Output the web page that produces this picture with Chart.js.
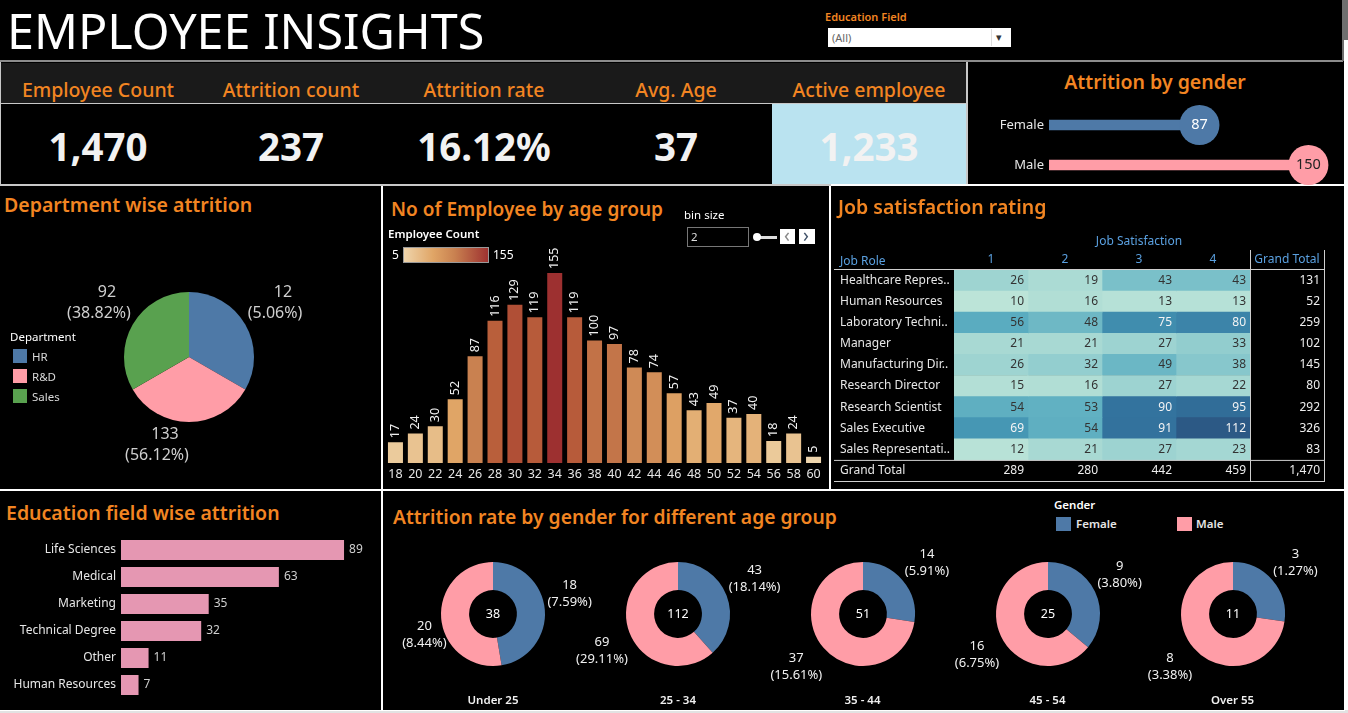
<!DOCTYPE html>
<html>
<head>
<meta charset="utf-8">
<title>Employee Insights</title>
<script src="https://cdn.jsdelivr.net/npm/chart.js@4"></script>
<style>
  html, body { margin: 0; padding: 0; background: #fff; overflow: hidden; }
  #board { position: relative; width: 1348px; height: 713px; background: #000; overflow: hidden; font-family: "Noto Sans", sans-serif; color: #fff; }
  #board canvas { position: absolute; }
  .line, .box { position: absolute; }
  .t { position: absolute; white-space: nowrap; line-height: 1; }
  .title { color: #f28522; font-weight: 600; font-size: 19.5px; }
  .kpi-h { color: #f28522; font-weight: 500; font-size: 19.5px; transform: translateX(-50%); }
  .kpi-v { color: #f2f2f2; font-weight: 700; font-size: 38.5px; transform: translateX(-50%); }
</style>
</head>
<body>
<div id="board"></div>
<script>
// Values
const kpiNames = ['Employee Count', 'Attrition count', 'Attrition rate', 'Avg. Age', 'Active employee'];
const kpiValues = ['1,470', '237', '16.12%', '37', '1,233'];

const genderNames = ['Female', 'Male'];
const genderCounts = [87, 150];

const deptNames = ['HR', 'R&D', 'Sales'];
const deptCounts = [12, 133, 92];
const deptShares = ['5.06%', '56.12%', '38.82%'];
const deptSliceSizes = [1, 1, 1]; // the slices are drawn as equal thirds in the original

const ageBins = ['18','20','22','24','26','28','30','32','34','36','38','40','42','44','46','48','50','52','54','56','58','60'];
const ageCounts = [17,24,30,52,87,116,129,119,155,119,100,97,78,74,57,43,49,37,40,18,24,5];

const jobRoles = ['Healthcare Repres..','Human Resources','Laboratory Techni..','Manager','Manufacturing Dir..','Research Director','Research Scientist','Sales Executive','Sales Representati..','Grand Total'];
const ratingNames = ['1','2','3','4','Grand Total'];
const rating1 = [26,10,56,21,26,15,54,69,12];
const rating2 = [19,16,48,21,32,16,53,54,21];
const rating3 = [43,13,75,27,49,27,90,91,27];
const rating4 = [43,13,80,33,38,22,95,112,23];
const roleTotals = ['131','52','259','102','145','80','292','326','83'];
const ratingTotals = ['289','280','442','459','1,470'];

const eduNames = ['Life Sciences','Medical','Marketing','Technical Degree','Other','Human Resources'];
const eduCounts = [89,63,35,32,11,7];

const ageGroups = ['Under 25','25 - 34','35 - 44','45 - 54','Over 55'];
const femaleCounts = [18,43,14,9,3];
const maleCounts = [20,69,37,16,8];
const femaleShares = ['7.59%','18.14%','5.91%','3.80%','1.27%'];
const maleShares = ['8.44%','29.11%','15.61%','6.75%','3.38%'];
const groupTotals = [38,112,51,25,11];

const FONT = '"Noto Sans", sans-serif';
const BLUE = '#4e79a7', PINK = '#ff9da7', GREEN = '#59a14f';
const board = document.getElementById('board');
Chart.defaults.animation = false;
Chart.defaults.responsive = false;
Chart.defaults.font.family = FONT;
Chart.defaults.layout.autoPadding = false;
Chart.defaults.plugins.legend.display = false;
Chart.defaults.plugins.tooltip.enabled = false;

function addBox(x, y, w, h, color) {
  const d = document.createElement('div');
  d.className = 'box';
  d.style.cssText = `left:${x}px;top:${y}px;width:${w}px;height:${h}px;background:${color}`;
  board.appendChild(d);
  return d;
}
function addText(text, x, y, css, cls) {
  const d = document.createElement('div');
  d.className = 't ' + (cls || '');
  d.textContent = text;
  d.style.cssText = `left:${x}px;top:${y}px;` + (css || '');
  board.appendChild(d);
  return d;
}
function addCanvas(x, y, w, h) {
  const c = document.createElement('canvas');
  c.width = w; c.height = h;
  c.style.left = x + 'px'; c.style.top = y + 'px';
  board.appendChild(c);
  return c.getContext('2d');
}
function drawLabel(ctx, text, x, y, font, color, align) {
  ctx.font = font; ctx.fillStyle = color;
  ctx.textAlign = align || 'center'; ctx.textBaseline = 'middle';
  ctx.fillText(text, x, y);
}
// pin an axis to a fixed thickness so the plot area lands where the dashboard has it
function fixAxis(prop, size) {
  return s => {
    s[prop] = size;
    s.paddingLeft = s.paddingRight = s.paddingTop = s.paddingBottom = 0;
  };
}
function hexMix(stops, v) {
  let i = 0;
  while (i < stops.length - 2 && v > stops[i + 1][0]) i++;
  const [v0, a] = stops[i], [v1, b] = stops[i + 1];
  const t = Math.max(0, Math.min(1, (v - v0) / (v1 - v0)));
  const ch = s => [1, 3, 5].map(k => parseInt(s.substr(k, 2), 16));
  const ca = ch(a), cb = ch(b);
  return `rgb(${ca.map((c, k) => Math.round(c + (cb[k] - c) * t)).join(',')})`;
}

// ---------- frame lines ----------
addBox(0, 60, 1343, 2, '#8c8c8c');
addBox(1342, 0, 2, 61, '#6e6e6e');
addBox(1342, 0, 6, 40, '#6e6e6e');
addBox(1344, 40, 4, 673, '#fff');
addBox(0, 184, 831, 2, '#c8c8c8');
addBox(831, 184, 513, 2, '#fff');
addBox(966, 62, 2, 122, '#c8c8c8');
addBox(0, 62, 1, 122, '#c8c8c8');
addBox(381, 186, 2, 524, '#fff');
addBox(829, 186, 2, 304, '#fff');
addBox(0, 489, 1344, 2, '#fff');
addBox(0, 710, 1348, 3, '#e2e2e2');
addBox(0, 710, 1345, 1, '#fff');

// ---------- header ----------
addText('EMPLOYEE INSIGHTS', 7, 6, 'font-size:48.5px;font-weight:400;');
addText('Education Field', 825, 11, 'color:#f28522;font-size:11px;font-weight:600;');
addBox(828, 28, 183, 19, '#fff');
addBox(991, 29, 1, 17, '#ddd');
addText('(All)', 832, 32, 'color:#666;font-size:11px;');
addText('\u25BE', 996, 31, 'color:#333;font-size:11px;');

// ---------- KPI strip ----------
addBox(1, 63, 965, 40, '#1a1a1a');
addBox(1, 103, 965, 1, '#c8c8c8');
addBox(772, 104, 194, 80, '#bae3f0');
const kpiCenters = [98, 291, 484, 676, 869];
kpiNames.forEach((n, i) => addText(n, kpiCenters[i], 80, '', 'kpi-h'));
kpiValues.forEach((v, i) => addText(v, kpiCenters[i], 127, '', 'kpi-v'));

// ---------- attrition by gender ----------
addText('Attrition by gender', 1155, 72, 'transform:translateX(-50%);', 'title');
new Chart(addCanvas(968, 105, 375, 80), {
  type: 'bar',
  data: {
    labels: genderNames,
    datasets: [
      { type: 'line', data: genderCounts, showLine: false, pointRadius: 20, pointBackgroundColor: [BLUE, PINK], pointBorderWidth: 0, clip: false, order: 1 },
      { data: genderCounts, backgroundColor: [BLUE, PINK], barThickness: 10, order: 2 }
    ]
  },
  options: {
    indexAxis: 'y',
    scales: {
      x: { display: false, min: 0, max: 170 },
      y: {
        afterFit: fixAxis('width', 81),
        grid: { display: false, drawTicks: false }, border: { display: false },
        ticks: { color: '#e6e6e6', padding: 5, font: { size: 13 } }
      }
    }
  },
  plugins: [{
    id: 'bubbleText',
    afterDraw(chart) {
      const meta = chart.getDatasetMeta(0);
      meta.data.forEach((pt, i) => drawLabel(chart.ctx, genderCounts[i], pt.x, pt.y, `14.5px ${FONT}`, i === 0 ? '#fff' : '#222'));
    }
  }]
});

// ---------- department pie ----------
addText('Department wise attrition', 4, 195, '', 'title');
const deptLabelSpots = [[86, -54], [-32, 88], [-90, -54]];
new Chart(addCanvas(1, 186, 380, 303), {
  type: 'pie',
  data: { labels: deptNames, datasets: [{ data: deptSliceSizes, backgroundColor: [BLUE, PINK, GREEN], borderWidth: 0 }] },
  options: { layout: { padding: { left: 123, right: 127, top: 106, bottom: 67 } } },
  plugins: [{
    id: 'deptLabels',
    afterDraw(chart) {
      const arc = chart.getDatasetMeta(0).data[0];
      deptCounts.forEach((c, i) => {
        const x = arc.x + deptLabelSpots[i][0], y = arc.y + deptLabelSpots[i][1];
        drawLabel(chart.ctx, c, x + 8, y - 10.5, `16px ${FONT}`, '#cfcfcf');
        drawLabel(chart.ctx, `(${deptShares[i]})`, x, y + 10.5, `16px ${FONT}`, '#cfcfcf');
      });
    }
  }]
});
addText('Department', 10, 331, 'font-size:11.5px;color:#fff;');
deptNames.forEach((n, i) => {
  addBox(13, 349 + i * 20, 14, 14, [BLUE, PINK, GREEN][i]);
  addText(n, 32, 350.5 + i * 20, 'font-size:11.5px;color:#d8d8d8;');
});

// ---------- employees by age ----------
addText('No of Employee by age group', 391, 200, 'font-size:19px;', 'title');
const ageStops = [[5, '#efd6ae'], [17, '#ebcb9c'], [52, '#e0a566'], [87, '#c98150'], [116, '#b95f3b'], [129, '#b04f36'], [155, '#9d3030']];
new Chart(addCanvas(383, 186, 446, 304), {
  type: 'bar',
  data: { labels: ageBins, datasets: [{ data: ageCounts, backgroundColor: ageCounts.map(v => hexMix(ageStops, v)), barPercentage: 0.754, categoryPercentage: 1 }] },
  options: {
    layout: { padding: { left: 2.5, right: 5.5, top: 87 } },
    scales: {
      y: { display: false, min: 0, max: 155 },
      x: {
        afterFit: fixAxis('height', 27),
        grid: { display: false, drawTicks: false }, border: { display: false },
        ticks: { color: '#e6e6e6', maxRotation: 0, autoSkip: false, padding: 4, font: { size: 12.5 } }
      }
    }
  },
  plugins: [{
    id: 'ageValues',
    afterDraw(chart) {
      const c = chart.ctx;
      chart.getDatasetMeta(0).data.forEach((bar, i) => {
        c.save();
        c.translate(bar.x, bar.y - 4);
        c.rotate(-Math.PI / 2);
        drawLabel(c, ageCounts[i], 0, 0, `12.5px ${FONT}`, '#f0f0f0', 'left');
        c.restore();
      });
    }
  }]
});
addText('Employee Count', 388, 228, 'font-size:11.5px;font-weight:600;');
addText('5', 392, 249, 'font-size:12px;');
addBox(403, 247, 86, 16, 'linear-gradient(90deg,#efd6ae,#e0a566 35%,#c98150 60%,#9d3030)').style.boxShadow = 'inset 0 0 0 1px #999';
addText('155', 493, 249, 'font-size:12px;');
addText('bin size', 684, 209, 'font-size:11.5px;');
const binBox = addBox(687, 227, 60, 18, '#000');
binBox.style.border = '1px solid #777';
addText('2', 691, 231, 'font-size:11.5px;color:#ddd;');
addBox(757, 236, 20, 3, '#ddd');
addBox(753, 233, 8, 8, '#fff').style.borderRadius = '50%';
addBox(780, 229, 15, 15, '#fff');
addBox(799, 229, 16, 15, '#fff');
addText('\u2039', 784, 226, 'font-size:19px;color:#8a8a8a;');
addText('\u203A', 803, 226, 'font-size:19px;color:#43546b;');

// ---------- job satisfaction table ----------
addText('Job satisfaction rating', 838, 197, '', 'title');
addText('Job Satisfaction', 1139, 235, 'transform:translateX(-50%);font-size:12px;color:#5aa0e0;');
addText('Job Role', 840, 255, 'font-size:12px;color:#5aa0e0;');
const heatStops = [[10, '#bce4d8'], [36, '#8ccacd'], [61, '#4da5bd'], [90, '#33739e'], [112, '#2c5985']];
const ratingColumns = [rating1, rating2, rating3, rating4];
new Chart(addCanvas(830, 250, 500, 240), {
  type: 'bar',
  data: {
    labels: jobRoles,
    datasets: ratingColumns.map((col, j) => ({
      data: col.map(() => [j, j + 1]),
      backgroundColor: col.map(v => hexMix(heatStops, v)),
      barPercentage: 1, categoryPercentage: 1, grouped: false
    }))
  },
  options: {
    indexAxis: 'y',
    layout: { padding: { left: 10, right: 6, bottom: 9 } },
    datasets: { bar: { grouped: false } },
    scales: {
      x: { display: false, min: 0, max: 5 },
      xHead: {
        type: 'category', position: 'top', labels: ratingNames, offset: true,
        afterFit: fixAxis('height', 20),
        grid: { display: false, drawTicks: false, offset: true }, border: { display: false },
        ticks: { color: '#5aa0e0', maxRotation: 0, autoSkip: false, padding: 3, font: { size: 12 } }
      },
      y: {
        afterFit: fixAxis('width', 114),
        grid: { display: false, drawTicks: false }, border: { display: false },
        ticks: { color: '#e6e6e6', crossAlign: 'far', padding: 0, autoSkip: false, font: { size: 12 } }
      }
    }
  },
  plugins: [{
    id: 'tableText',
    afterDraw(chart) {
      const c = chart.ctx, xs = chart.scales.x, ys = chart.scales.y;
      const font = `12px ${FONT}`;
      ratingColumns.forEach((col, j) => col.forEach((v, i) => {
        drawLabel(c, v, xs.getPixelForValue(j + 1) - 4, ys.getPixelForValue(i), font, v >= 69 ? '#f4f4f4' : '#333', 'right');
      }));
      roleTotals.forEach((v, i) => drawLabel(c, v, xs.getPixelForValue(5) - 4, ys.getPixelForValue(i), font, '#eee', 'right'));
      ratingTotals.forEach((v, j) => drawLabel(c, v, xs.getPixelForValue(j + 1) - 4, ys.getPixelForValue(9), font, '#eee', 'right'));
      // rules of the table
      c.fillStyle = '#cfcfcf';
      const left = 4, right = xs.getPixelForValue(5) + 1, top = chart.chartArea.top, bottom = chart.chartArea.bottom;
      c.fillRect(left, top - 1, right - left, 1);
      c.fillRect(left, ys.getPixelForValue(8.5), right - left, 1);
      c.fillRect(left, bottom, right - left, 1);
      c.fillRect(xs.getPixelForValue(4), 0, 1, bottom);
      c.fillRect(xs.getPixelForValue(5), 0, 1, bottom);
    }
  }]
});

// ---------- education field bars ----------
addText('Education field wise attrition', 6, 503, '', 'title');
new Chart(addCanvas(0, 491, 381, 219), {
  type: 'bar',
  data: { labels: eduNames, datasets: [{ data: eduCounts, backgroundColor: '#e597b2', barPercentage: 0.74, categoryPercentage: 1 }] },
  options: {
    indexAxis: 'y',
    layout: { padding: { top: 45.5, bottom: 11.5, right: 9.4 } },
    scales: {
      x: { display: false, min: 0, max: 100 },
      y: {
        afterFit: fixAxis('width', 121),
        grid: { display: false, drawTicks: false }, border: { display: false },
        ticks: { color: '#e6e6e6', padding: 5, font: { size: 12 } }
      }
    }
  },
  plugins: [{
    id: 'eduValues',
    afterDraw(chart) {
      chart.getDatasetMeta(0).data.forEach((bar, i) => drawLabel(chart.ctx, eduCounts[i], bar.x + 5, bar.y, `12px ${FONT}`, '#cfcfcf', 'left'));
    }
  }]
});

// ---------- attrition by gender and age group ----------
addText('Attrition rate by gender for different age group', 393, 507, 'font-size:19.3px;', 'title');
addText('Gender', 1054, 499, 'font-size:11.5px;font-weight:600;');
addBox(1056, 517, 15, 14, BLUE);
addBox(1177, 517, 15, 14, PINK);
addText('Female', 1076, 518, 'font-size:11.5px;font-weight:600;color:#e6e6e6;');
addText('Male', 1196, 518, 'font-size:11.5px;font-weight:600;color:#e6e6e6;');

const donutCenters = [493, 678, 862.5, 1047.5, 1232.5];
const femaleSpots = [[76.6, -20], [76.6, -35], [64, -51.5], [71.6, -39.5], [62.4, -51.5]];
const maleSpots = [[-68.6, 21], [-76, 36.5], [-66.7, 52.5], [-71, 40.5], [-63, 53]];
ageGroups.forEach((group, i) => {
  const cx = donutCenters[i];
  new Chart(addCanvas(cx - 110, 540, 220, 170), {
    type: 'doughnut',
    data: { labels: genderNames, datasets: [{ data: [femaleCounts[i], maleCounts[i]], backgroundColor: [BLUE, PINK], borderWidth: 0 }] },
    options: { cutout: '46%', layout: { padding: { left: 58, right: 58, top: 22, bottom: 44 } } },
    plugins: [{
      id: 'donutText',
      afterDraw(chart) {
        const c = chart.ctx, arc = chart.getDatasetMeta(0).data[0];
        const font = `13px ${FONT}`;
        drawLabel(c, groupTotals[i], arc.x, arc.y, `12.5px ${FONT}`, '#fff');
        [[femaleCounts[i], femaleShares[i], femaleSpots[i]], [maleCounts[i], maleShares[i], maleSpots[i]]].forEach(([n, s, spot]) => {
          drawLabel(c, n, arc.x + spot[0], arc.y + spot[1] - 8.3, font, '#f0f0f0');
          drawLabel(c, `(${s})`, arc.x + spot[0], arc.y + spot[1] + 8.3, font, '#f0f0f0');
        });
      }
    }]
  });
  addText(group, cx, 693.5, 'transform:translateX(-50%);font-size:11.5px;font-weight:600;color:#f0f0f0;');
});
</script>
</body>
</html>
